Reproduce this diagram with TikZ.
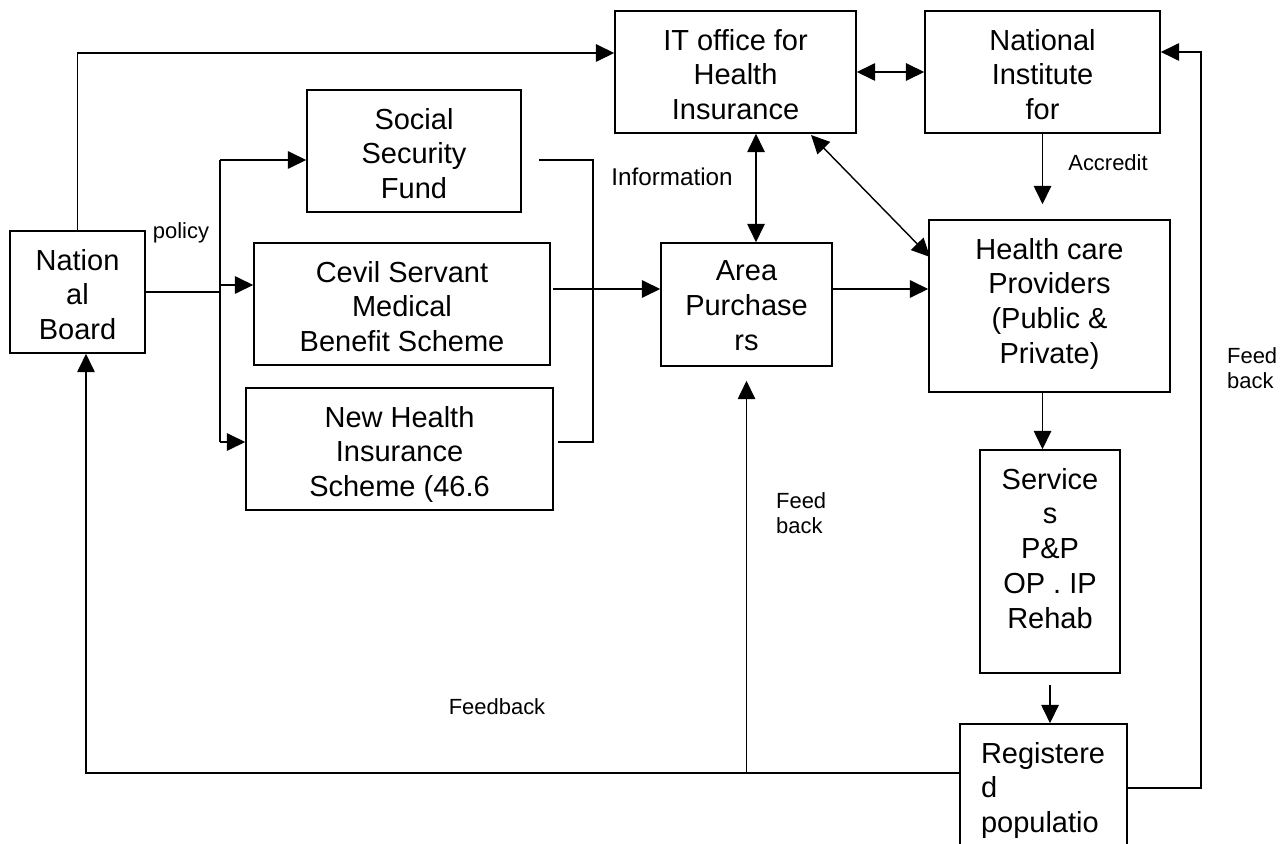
\documentclass[tikz,border=0pt]{standalone}
\usepackage{fontspec}
\setmainfont{Liberation Sans}
\usepackage{tikz}
\usetikzlibrary{arrows.meta,positioning}
\newcommand{\boxfont}{\fontsize{16.5}{19.8}\selectfont}
\newcommand{\lblfont}{\fontsize{12.5}{14}\selectfont}
\newcommand{\boxtxt}[3]{\parbox[c][#2][t]{#1}{\centering\vspace*{0.36cm}#3}}
\tikzset{
  box/.style  = {draw,line width=0.9pt,inner sep=0pt,font=\boxfont},
  arr/.style  = {-{Triangle[length=10.5pt,width=10pt]},line width=0.8pt},
  dbl/.style  = {{Triangle[length=10.5pt,width=10pt]}-{Triangle[length=10.5pt,width=10pt]},
                 line width=0.8pt},
  lbl/.style  = {font=\lblfont,inner sep=1pt},
}
\begin{document}
\begin{tikzpicture}[x=0.02cm,y=-0.02cm]
  \useasboundingbox (0,0) rectangle (1283,844);

  \node[box] (board)  at (77.5,292)   {\boxtxt{2.7cm}{2.44cm}{Nation\\al\\Board}};
  \node[box] (ssf)    at (414,151)    {\boxtxt{4.28cm}{2.44cm}{Social\\Security\\Fund}};
  \node[box] (csmbs)  at (402,304)    {\boxtxt{5.92cm}{2.44cm}{Cevil Servant\\Medical\\Benefit Scheme}};
  \node[box] (nhis)   at (399.5,449)  {\boxtxt{6.14cm}{2.44cm}{New Health\\Insurance\\Scheme (46.6}};
  \node[box] (itoff)  at (735.5,72)   {\boxtxt{4.82cm}{2.44cm}{IT office for\\Health\\Insurance}};
  \node[box] (nihs)   at (1042.5,72)  {\boxtxt{4.7cm}{2.44cm}{National\\Institute\\for}};
  \node[box] (purch)  at (746.5,304.5){\boxtxt{3.42cm}{2.46cm}{Area\\Purchase\\rs}};
  \node[box] (prov)   at (1049.5,306) {\boxtxt{4.82cm}{3.44cm}{Health care\\Providers\\(Public \&\\Private)}};
  \node[box] (serv)   at (1050,561.5) {\boxtxt{2.8cm}{4.46cm}{Service\\s\\P\&P\\OP . IP\\Rehab}};
  \node[box] (regpop) at (1043.5,797)
       {\parbox[c][2.92cm][t]{3.34cm}{\raggedright\leftskip=0.42cm\vspace*{0.36cm}Registere\\d\\populatio}};

  % policy bus from the board to the three schemes
  \coordinate (topln) at (78,53);
  \coordinate (split) at (220,292);
  \coordinate (bus1)  at (220,160);
  \coordinate (bus2)  at (220,285);
  \coordinate (bus3)  at (220,442);
  \draw[arr] (board.north) |- (topln -| itoff.west);
  \draw[line width=0.8pt] (board.east) -- (split);
  \draw[line width=0.8pt] (bus1) -- (bus3);
  \draw[arr] (bus1) -- (bus1 -| ssf.west);
  \draw[arr] (bus2) -- (bus2 -| csmbs.west);
  \draw[arr] (bus3) -- (bus3 -| nhis.west);

  % schemes to purchasers
  \coordinate (ssfout)  at (539,160);
  \coordinate (col1)    at (593,160);
  \coordinate (col2)    at (593,442);
  \coordinate (nhisout) at (558,442);
  \coordinate (csout)   at (553,289);
  \draw[line width=0.8pt] (ssfout) -- (col1) -- (col2) -- (nhisout);
  \draw[arr] (csout) -- (csout -| purch.west);
  \draw[arr] (csout -| purch.east) -- (csout -| prov.west);

  % information and accreditation
  \coordinate (infox) at (756,200);
  \coordinate (dg1)   at (811,135);
  \coordinate (dg2)   at (930,257);
  \draw[dbl] (itoff) -- (nihs);
  \draw[dbl] (itoff.south -| infox) -- (purch.north -| infox);
  \draw[dbl] (dg1) -- (dg2);
  \draw[arr,shorten >=0.3cm] (nihs.south) -- (nihs.south |- prov.north);
  \draw[arr] (prov.south -| nihs.south) -- (serv.north -| nihs.south);
  \draw[arr,shorten <=0.22cm] (serv.south) -- (serv.south |- regpop.north);

  % feedback loops
  \coordinate (fbl)   at (86,773);
  \coordinate (fbr)   at (1201,788);
  \coordinate (fbtop) at (1201,52);
  \draw[arr] (fbl -| regpop.west) -- (fbl) -- (fbl |- board.south);
  \draw[arr,shorten >=0.28cm] (fbl -| purch.south) -- (purch.south);
  \draw[arr] (fbr -| regpop.east) -- (fbr) -- (fbtop) -- (fbtop -| nihs.east);

  \node[lbl] (policy) at (181,233) {policy};
  \node[lbl,font=\fontsize{13.8}{15}\selectfont] (info) at (672,177) {Information};
  \node[lbl] (accr)   at (1108,163) {Accredit};
  \node[lbl] (fback)  at (497,707) {Feedback};
  \node[lbl,anchor=west,align=left] (fbmid) at (774,513) {Feed\\back};
  \node[lbl,anchor=west,align=left] (fbrt)  at (1225,368) {Feed\\back};
\end{tikzpicture}
\end{document}
